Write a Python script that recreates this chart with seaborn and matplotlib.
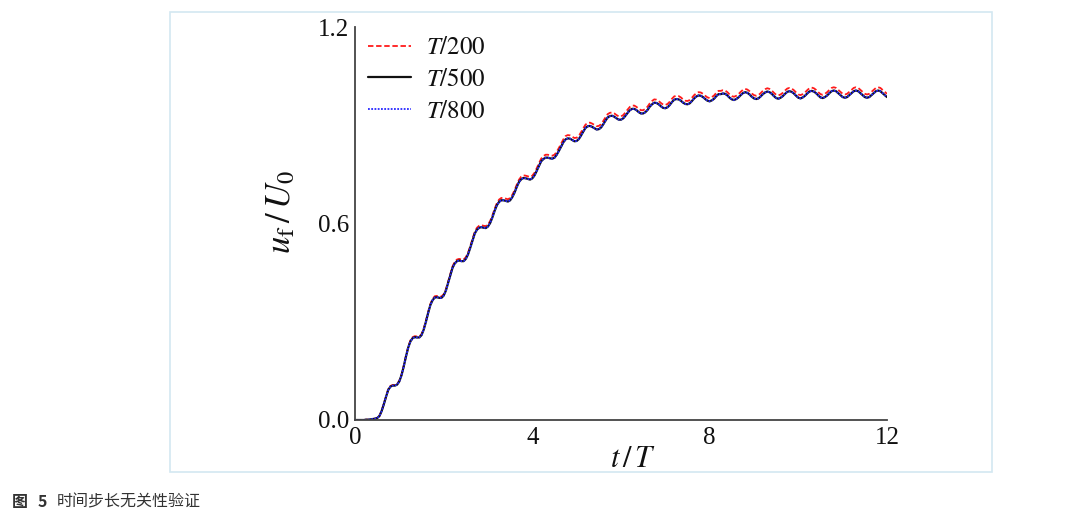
import numpy as np
import pandas as pd
import matplotlib
matplotlib.use("Agg")
import matplotlib.pyplot as plt
import seaborn as sns
from matplotlib.patches import Rectangle

# ---------------- data ----------------
t_start, t_end, n_samples = 0.0, 12.0, 241
t_values = np.linspace(t_start, t_end, n_samples)

u_T500 = [
    0.000, 0.000, 0.000, 0.000, 0.000, 0.001, 0.001, 0.002, 0.003, 0.004,
    0.006, 0.012, 0.027, 0.048, 0.071, 0.092, 0.102, 0.105, 0.105, 0.108,
    0.118, 0.137, 0.164, 0.194, 0.221, 0.240, 0.250, 0.253, 0.252, 0.252,
    0.259, 0.276, 0.300, 0.327, 0.351, 0.366, 0.374, 0.375, 0.373, 0.373,
    0.380, 0.395, 0.418, 0.442, 0.465, 0.478, 0.485, 0.487, 0.485, 0.485,
    0.492, 0.506, 0.526, 0.548, 0.569, 0.581, 0.587, 0.589, 0.587, 0.586,
    0.591, 0.602, 0.619, 0.639, 0.656, 0.666, 0.671, 0.671, 0.669, 0.667,
    0.671, 0.681, 0.695, 0.712, 0.727, 0.735, 0.739, 0.738, 0.736, 0.734,
    0.738, 0.747, 0.761, 0.776, 0.790, 0.797, 0.801, 0.801, 0.799, 0.798,
    0.801, 0.810, 0.822, 0.835, 0.848, 0.857, 0.860, 0.859, 0.855, 0.851,
    0.852, 0.858, 0.869, 0.881, 0.892, 0.897, 0.898, 0.895, 0.891, 0.887,
    0.888, 0.893, 0.903, 0.914, 0.924, 0.928, 0.929, 0.926, 0.921, 0.917,
    0.917, 0.921, 0.929, 0.938, 0.946, 0.950, 0.950, 0.946, 0.940, 0.936,
    0.936, 0.940, 0.947, 0.957, 0.964, 0.969, 0.968, 0.964, 0.958, 0.953,
    0.952, 0.955, 0.962, 0.971, 0.978, 0.980, 0.979, 0.975, 0.969, 0.965,
    0.964, 0.967, 0.974, 0.982, 0.988, 0.991, 0.990, 0.986, 0.980, 0.975,
    0.973, 0.976, 0.981, 0.989, 0.995, 0.995, 0.997, 0.996, 0.991, 0.984,
    0.979, 0.977, 0.980, 0.985, 0.992, 0.998, 1.001, 0.999, 0.994, 0.987,
    0.982, 0.980, 0.982, 0.988, 0.995, 1.000, 1.003, 1.001, 0.996, 0.989,
    0.983, 0.981, 0.984, 0.989, 0.996, 1.002, 1.004, 1.002, 0.997, 0.990,
    0.984, 0.982, 0.985, 0.990, 0.997, 1.003, 1.005, 1.003, 0.998, 0.991,
    0.985, 0.983, 0.986, 0.991, 0.998, 1.004, 1.006, 1.004, 0.998, 0.992,
    0.986, 0.984, 0.986, 0.992, 0.998, 1.004, 1.006, 1.004, 0.998, 0.992,
    0.986, 0.984, 0.986, 0.992, 0.998, 1.004, 1.006, 1.004, 0.998, 0.992,
    0.986,
]

u_T200 = [
    0.000, 0.000, 0.000, 0.000, 0.000, 0.001, 0.001, 0.002, 0.003, 0.004,
    0.006, 0.012, 0.028, 0.049, 0.072, 0.094, 0.104, 0.107, 0.107, 0.110,
    0.120, 0.139, 0.166, 0.196, 0.223, 0.243, 0.253, 0.256, 0.255, 0.255,
    0.262, 0.279, 0.303, 0.330, 0.354, 0.370, 0.378, 0.379, 0.377, 0.377,
    0.384, 0.399, 0.422, 0.446, 0.469, 0.483, 0.490, 0.492, 0.490, 0.490,
    0.497, 0.511, 0.531, 0.553, 0.574, 0.587, 0.593, 0.595, 0.593, 0.592,
    0.597, 0.608, 0.625, 0.645, 0.662, 0.673, 0.678, 0.678, 0.676, 0.674,
    0.678, 0.688, 0.702, 0.719, 0.734, 0.743, 0.747, 0.746, 0.744, 0.742,
    0.746, 0.755, 0.769, 0.784, 0.798, 0.806, 0.810, 0.810, 0.808, 0.807,
    0.810, 0.819, 0.831, 0.844, 0.857, 0.867, 0.870, 0.869, 0.865, 0.861,
    0.862, 0.868, 0.879, 0.891, 0.902, 0.907, 0.908, 0.905, 0.901, 0.897,
    0.898, 0.903, 0.913, 0.924, 0.934, 0.938, 0.939, 0.936, 0.931, 0.927,
    0.927, 0.931, 0.939, 0.948, 0.956, 0.960, 0.960, 0.956, 0.950, 0.946,
    0.946, 0.950, 0.957, 0.967, 0.974, 0.979, 0.978, 0.974, 0.968, 0.963,
    0.962, 0.965, 0.972, 0.981, 0.988, 0.990, 0.989, 0.985, 0.979, 0.975,
    0.974, 0.977, 0.984, 0.992, 0.998, 1.001, 1.000, 0.996, 0.990, 0.985,
    0.983, 0.986, 0.991, 0.999, 1.005, 1.005, 1.007, 1.006, 1.001, 0.994,
    0.989, 0.987, 0.990, 0.995, 1.002, 1.008, 1.011, 1.009, 1.004, 0.997,
    0.992, 0.990, 0.992, 0.998, 1.005, 1.010, 1.013, 1.011, 1.006, 0.999,
    0.993, 0.991, 0.994, 0.999, 1.006, 1.012, 1.014, 1.012, 1.007, 1.000,
    0.994, 0.992, 0.995, 1.000, 1.007, 1.013, 1.015, 1.013, 1.008, 1.001,
    0.995, 0.993, 0.996, 1.001, 1.008, 1.014, 1.016, 1.014, 1.008, 1.002,
    0.996, 0.994, 0.996, 1.002, 1.008, 1.014, 1.016, 1.014, 1.008, 1.002,
    0.996, 0.994, 0.996, 1.002, 1.008, 1.014, 1.016, 1.014, 1.008, 1.002,
    0.996,
]

u_T800 = [
    0.000, 0.000, 0.000, 0.000, 0.000, 0.001, 0.001, 0.002, 0.003, 0.004,
    0.006, 0.012, 0.027, 0.048, 0.071, 0.092, 0.102, 0.105, 0.105, 0.108,
    0.118, 0.137, 0.164, 0.194, 0.221, 0.240, 0.250, 0.253, 0.252, 0.252,
    0.259, 0.276, 0.300, 0.327, 0.351, 0.366, 0.374, 0.375, 0.373, 0.373,
    0.380, 0.395, 0.418, 0.442, 0.465, 0.478, 0.485, 0.487, 0.485, 0.485,
    0.492, 0.506, 0.526, 0.548, 0.569, 0.581, 0.587, 0.589, 0.587, 0.586,
    0.591, 0.602, 0.619, 0.639, 0.656, 0.666, 0.671, 0.671, 0.669, 0.667,
    0.671, 0.681, 0.695, 0.712, 0.727, 0.735, 0.739, 0.738, 0.736, 0.734,
    0.738, 0.747, 0.761, 0.776, 0.790, 0.797, 0.801, 0.801, 0.799, 0.798,
    0.801, 0.810, 0.822, 0.835, 0.848, 0.857, 0.860, 0.859, 0.855, 0.851,
    0.852, 0.858, 0.869, 0.881, 0.892, 0.897, 0.898, 0.895, 0.891, 0.887,
    0.888, 0.893, 0.903, 0.914, 0.924, 0.928, 0.929, 0.926, 0.921, 0.917,
    0.917, 0.921, 0.929, 0.938, 0.946, 0.950, 0.950, 0.946, 0.940, 0.936,
    0.936, 0.940, 0.947, 0.957, 0.964, 0.969, 0.968, 0.964, 0.958, 0.953,
    0.952, 0.955, 0.962, 0.971, 0.978, 0.980, 0.979, 0.975, 0.969, 0.965,
    0.964, 0.967, 0.974, 0.982, 0.988, 0.991, 0.990, 0.986, 0.980, 0.975,
    0.973, 0.976, 0.981, 0.989, 0.995, 0.995, 0.997, 0.996, 0.991, 0.984,
    0.979, 0.977, 0.980, 0.985, 0.992, 0.998, 1.001, 0.999, 0.994, 0.987,
    0.982, 0.980, 0.982, 0.988, 0.995, 1.000, 1.003, 1.001, 0.996, 0.989,
    0.983, 0.981, 0.984, 0.989, 0.996, 1.002, 1.004, 1.002, 0.997, 0.990,
    0.984, 0.982, 0.985, 0.990, 0.997, 1.003, 1.005, 1.003, 0.998, 0.991,
    0.985, 0.983, 0.986, 0.991, 0.998, 1.004, 1.006, 1.004, 0.998, 0.992,
    0.986, 0.984, 0.986, 0.992, 0.998, 1.004, 1.006, 1.004, 0.998, 0.992,
    0.986, 0.984, 0.986, 0.992, 0.998, 1.004, 1.006, 1.004, 0.998, 0.992,
    0.986,
]

series_labels = [r"$T/200$", r"$T/500$", r"$T/800$"]
x_ticks = [0, 4, 8, 12]
y_ticks = [0.0, 0.6, 1.2]
y_tick_labels = ["0.0", "0.6", "1.2"]
caption_fig = "图"
caption_num = "5"
caption_text = "时间步长无关性验证"

# ---------------- styling ----------------
sns.set_theme(style="white")
plt.rcParams["font.family"] = ["Liberation Serif", "DejaVu Serif"]
plt.rcParams["mathtext.fontset"] = "stix"

df = pd.concat([
    pd.DataFrame({"t": t_values, "u": u_T200, "case": series_labels[0]}),
    pd.DataFrame({"t": t_values, "u": u_T500, "case": series_labels[1]}),
    pd.DataFrame({"t": t_values, "u": u_T800, "case": series_labels[2]}),
], ignore_index=True)

W, H = 1080, 526
fig = plt.figure(figsize=(W / 100, H / 100), dpi=100)
fig.patch.set_facecolor("white")

# light blue frame around the figure panel
frame = Rectangle((170 / W, 1 - 472 / H), (992 - 170) / W, (472 - 12) / H,
                  transform=fig.transFigure, facecolor="none",
                  edgecolor="#d3e8f1", linewidth=1.2, zorder=0)
fig.patches.append(frame)

ax = fig.add_axes([355 / W, 1 - 420 / H, (887 - 355) / W, (420 - 27) / H])

palette = {series_labels[0]: "#ff1a1a", series_labels[1]: "#111111", series_labels[2]: "#2828ff"}
dashes = {series_labels[0]: (3, 1.5), series_labels[1]: "", series_labels[2]: (1, 0.8)}
sizes = {series_labels[0]: 1.3, series_labels[1]: 1.6, series_labels[2]: 1.3}

sns.lineplot(data=df, x="t", y="u", hue="case", style="case", size="case",
             palette=palette, dashes=dashes, sizes=sizes,
             hue_order=series_labels, style_order=series_labels, size_order=series_labels,
             estimator=None, sort=False, ax=ax, legend=True)

ax.set_xlim(0, 12)
ax.set_ylim(0, 1.2)
ax.set_xticks(x_ticks)
ax.set_xticklabels([str(v) for v in x_ticks])
ax.set_yticks(y_ticks)
ax.set_yticklabels(y_tick_labels)
ax.tick_params(direction="in", length=5, width=1.0, colors="#333333",
               labelsize=18, labelcolor="#111111")
ax.tick_params(axis="x", pad=5)
ax.tick_params(axis="y", pad=4)

for side in ["top", "right"]:
    ax.spines[side].set_visible(False)
for side in ["left", "bottom"]:
    ax.spines[side].set_color("#444444")
    ax.spines[side].set_linewidth(1.3)

ax.set_xlabel(r"$t\,/\,T$", fontsize=22, color="#111111")
ax.xaxis.set_label_coords((633 - 355) / 532, (420 - 445) / 393)
ax.set_ylabel(r"$u_{\mathrm{f}}\,/\,U_0$", fontsize=25, color="#111111")
ax.yaxis.set_label_coords((298 - 355) / 532, (420 - 212) / 393)

handles, labels = ax.get_legend_handles_labels()
leg = ax.legend(handles, labels, loc="upper left",
                bbox_to_anchor=((368 - 355) / 532, (420 - 37) / 393),
                frameon=False, fontsize=18, handlelength=1.7, handletextpad=0.6,
                labelspacing=0.36, borderaxespad=0.0, borderpad=0.0)
for txt in leg.get_texts():
    txt.set_color("#111111")

# caption
cap_y = 1 - 502 / H
cjk = ["Noto Sans CJK SC", "DejaVu Sans"]
fig.text(12 / W, cap_y, caption_fig, fontsize=11.5, fontweight="bold",
         color="#333333", family=cjk, va="center")
fig.text(38 / W, cap_y, caption_num, fontsize=11.5, fontweight="bold",
         color="#333333", family=cjk, va="center")
fig.text(57 / W, cap_y, caption_text, fontsize=11.5,
         color="#333333", family=cjk, va="center")

fig.savefig("out.png", dpi=100, facecolor="white")
